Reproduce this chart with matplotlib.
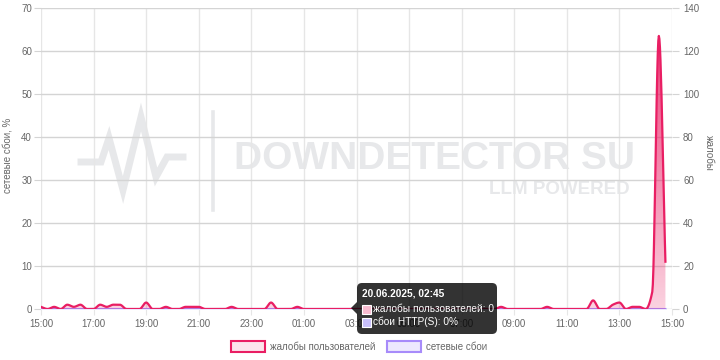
import numpy as np
import pandas as pd
import matplotlib
matplotlib.use("Agg")
import matplotlib.pyplot as plt
import matplotlib.dates as mdates
from matplotlib.patches import FancyBboxPatch, Rectangle, Polygon
from matplotlib.lines import Line2D
from matplotlib.transforms import IdentityTransform

plt.rcParams['font.family'] = ['Liberation Sans', 'DejaVu Sans']

# 15-minute samples, 19.06.2025 15:00 .. 20.06.2025 14:45
times = pd.date_range("2025-06-19 15:00", periods=96, freq="15min")

complaints = [1, 0, 1, 0, 2, 1, 2, 0, 0, 2, 1, 2, 2, 0, 0, 0,
              3, 0, 0, 1, 0, 0, 1, 1, 1, 0, 0, 0, 0, 1, 0, 0,
              0, 0, 0, 3, 0, 0, 0, 1, 0, 0, 0, 0, 0, 0, 0, 0,
              0, 0, 0, 0, 0, 0, 0, 0, 0, 0, 0, 0, 0, 0, 0, 0,
              0, 0, 0, 0, 0, 0, 1, 0, 0, 0, 0, 0, 0, 1, 0, 0,
              0, 0, 0, 0, 4, 0, 0, 2, 3, 0, 1, 1, 0, 8, 127, 22]
network_pct = [0] * 96

left_ticks = [0, 10, 20, 30, 40, 50, 60, 70]
right_ticks = [0, 20, 40, 60, 80, 100, 120, 140]

W, H = 720, 360
PINK = '#e91e63'
PURPLE = '#a78bfa'
GRAY = '#666666'


def monotone(xs, ys, per=12):
    # monotone cubic (Fritsch-Carlson), like chart.js cubicInterpolationMode
    xs = np.asarray(xs, float); ys = np.asarray(ys, float)
    h = np.diff(xs); d = np.diff(ys) / h
    m = np.zeros_like(ys)
    m[0], m[-1] = d[0], d[-1]
    for k in range(1, len(ys) - 1):
        if d[k - 1] * d[k] <= 0:
            m[k] = 0
        else:
            w1 = 2 * h[k] + h[k - 1]; w2 = h[k] + 2 * h[k - 1]
            m[k] = (w1 + w2) / (w1 / d[k - 1] + w2 / d[k])
    out_x, out_y = [], []
    for k in range(len(h)):
        t = np.linspace(0, 1, per, endpoint=False)
        h00 = 2 * t**3 - 3 * t**2 + 1; h10 = t**3 - 2 * t**2 + t
        h01 = -2 * t**3 + 3 * t**2; h11 = t**3 - t**2
        out_x.append(xs[k] + t * h[k])
        out_y.append(h00 * ys[k] + h10 * h[k] * m[k] + h01 * ys[k + 1] + h11 * h[k] * m[k + 1])
    out_x.append([xs[-1]]); out_y.append([ys[-1]])
    return np.concatenate(out_x), np.concatenate(out_y)


def px(x, y):
    return (x, H - y)


fig = plt.figure(figsize=(7.2, 3.6), dpi=100)
fig.patch.set_facecolor('white')
ax = fig.add_axes([41 / W, 1 - 309 / H, (672 - 41) / W, (309 - 8) / H])
ax.set_facecolor('none')
ax2 = ax.twinx()

xnum = mdates.date2num(times)
x0 = mdates.date2num(pd.Timestamp("2025-06-19 15:00"))
x1 = mdates.date2num(pd.Timestamp("2025-06-20 15:00"))

# network failures (left axis)
sx, sy = monotone(xnum, network_pct)
ax.fill_between(sx, 0, sy, color='#ede9fe', zorder=2)
ax.plot(sx, sy, color=PURPLE, lw=1.5, zorder=3)

# complaints (right axis) with vertical gradient fill
cx, cy = monotone(xnum, complaints)
cy = np.clip(cy, 0, None)
poly = ax2.fill_between(cx, 0, cy, color='none', lw=0)
grad = np.zeros((256, 1, 4))
grad[:, 0, 0], grad[:, 0, 1], grad[:, 0, 2] = 233 / 255, 30 / 255, 99 / 255
grad[:, 0, 3] = np.linspace(0.2, 0.9, 256)
im = ax2.imshow(grad, extent=[x0, x1, 0, 140], origin='lower', aspect='auto', zorder=2)
im.set_clip_path(poly.get_paths()[0], transform=ax2.transData)
ax2.plot(cx, cy, color=PINK, lw=1.6, zorder=3)

ax.set_xlim(x0, x1)
ax.set_ylim(0, 70)
ax2.set_ylim(0, 140)
ax2.set_xlim(x0, x1)
ax.set_yticks(left_ticks)
ax2.set_yticks(right_ticks)

ax.xaxis.set_major_locator(mdates.HourLocator(byhour=range(1, 24, 2)))
ax.xaxis.set_major_formatter(mdates.DateFormatter('%H:%M'))

for a in (ax, ax2):
    for s in a.spines.values():
        s.set_visible(False)
ax.grid(axis='y', color='#d4d4d4', lw=1, zorder=0)
ax.grid(axis='x', color='#e6e6e6', lw=1, zorder=0)
ax.tick_params(axis='y', length=5, color='#d4d4d4', labelsize=7, labelcolor=GRAY, pad=1.5)
ax2.tick_params(axis='y', length=5, color='#d4d4d4', labelsize=7, labelcolor=GRAY, pad=3)
ax.tick_params(axis='x', length=4, color='#e6e6e6', labelsize=7, labelcolor=GRAY, pad=3)

fig.text(8 / W, 1 - 155 / H, 'сетевые сбои, %', rotation=90, ha='center', va='center',
         fontsize=7, color=GRAY)
fig.text(709 / W, 1 - 153 / H, 'жалобы', rotation=270, ha='center', va='center',
         fontsize=7, color=GRAY)

# watermark
idt = IdentityTransform()
wm = '#e7e8ea'
fig.text(434 / W, 1 - 159 / H, 'DOWNDETECTOR SU', fontsize=28, fontweight='bold',
         color=wm, ha='center', va='center', zorder=-1)
fig.text(630 / W, 1 - 190 / H, 'LLM POWERED', fontsize=13.5, fontweight='bold',
         color=wm, ha='right', va='center', zorder=-1)
logo = [(81, 162), (101, 162), (109, 138), (123, 190), (141, 117), (156, 177), (167, 157), (183, 157)]
fig.add_artist(Line2D([p[0] for p in logo], [H - p[1] for p in logo], transform=idt,
                      color=wm, lw=5, solid_joinstyle='miter', zorder=-1))
fig.add_artist(Line2D([213, 213], [H - 112, H - 210], transform=idt, color=wm, lw=2.6, zorder=-1))

# tooltip (semi-transparent like the chart's)
tip = (0, 0, 0, 0.8)
fig.add_artist(FancyBboxPatch(px(357, 334), 140, 51, boxstyle='round,pad=0,rounding_size=5',
                              transform=idt, facecolor=tip, edgecolor='none', zorder=10))
fig.add_artist(Polygon([px(351, 308), px(357, 302), px(357, 314)], closed=True, transform=idt,
                       facecolor=tip, edgecolor='none', zorder=10))
fig.text(362 / W, 1 - 294 / H, '20.06.2025, 02:45', fontsize=7.3, fontweight='bold',
         color='white', va='center', ha='left', zorder=11)
fig.add_artist(Rectangle(px(362, 313.5), 9, 9, transform=idt, facecolor='#f8bbd0',
                         edgecolor='white', lw=0.8, zorder=11))
fig.add_artist(Rectangle(px(362, 326.5), 9, 9, transform=idt, facecolor='#c9c0fb',
                         edgecolor='white', lw=0.8, zorder=11))
fig.text(373 / W, 1 - 309 / H, 'жалобы пользователей: 0', fontsize=7.3, color='white',
         va='center', ha='left', zorder=11)
fig.text(373 / W, 1 - 322 / H, 'сбои HTTP(S): 0%', fontsize=7.3, color='white',
         va='center', ha='left', zorder=11)

# legend
fig.add_artist(Rectangle(px(231, 352), 34, 11, transform=idt, facecolor='#fce4ec',
                         edgecolor=PINK, lw=1.5))
fig.text(270 / W, 1 - 346.5 / H, 'жалобы пользователей', fontsize=7, color=GRAY, va='center')
fig.add_artist(Rectangle(px(387, 352), 34, 11, transform=idt, facecolor='#ede9fe',
                         edgecolor=PURPLE, lw=1.5))
fig.text(426 / W, 1 - 346.5 / H, 'сетевые сбои', fontsize=7, color=GRAY, va='center')

fig.savefig('out.png', dpi=100)
